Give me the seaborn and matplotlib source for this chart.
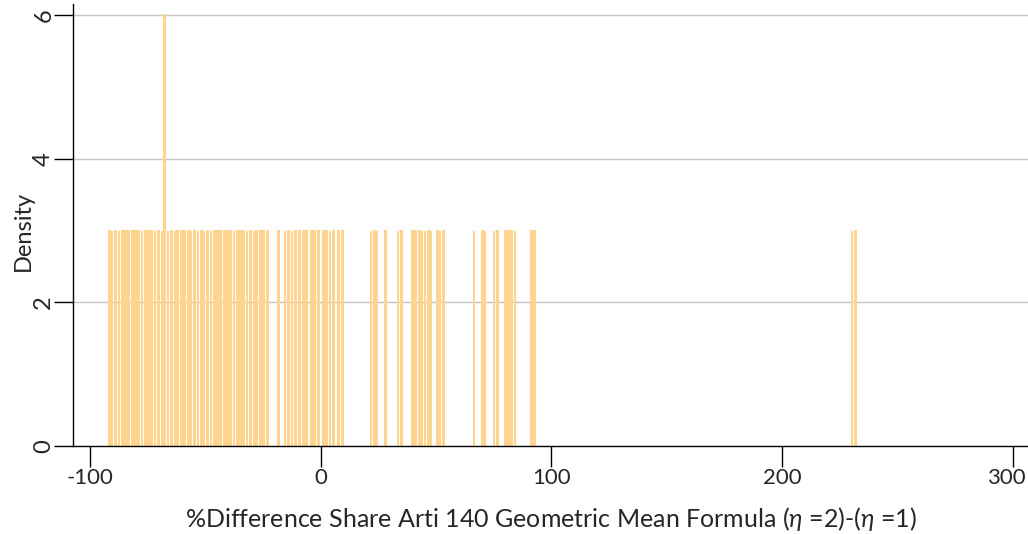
import numpy as np
import pandas as pd
import matplotlib
matplotlib.use("Agg")
import matplotlib.pyplot as plt
import matplotlib.transforms as mtransforms
import seaborn as sns

pct_diff = [
    -91.7, -90.3, -88.9, -87.4, -86.0, -84.6, -83.2, -81.7, -80.3, -78.9,
    -77.5, -76.0, -74.6, -73.2, -71.8, -70.3, -68.9, -67.5, -67.5, -66.1,
    -64.6, -63.2, -61.8, -60.4, -58.9, -57.5, -56.1, -54.7, -53.2, -51.8,
    -50.4, -49.0, -47.5, -46.1, -44.7, -43.3, -41.8, -40.4, -39.0, -37.6,
    -36.1, -34.7, -33.3, -31.9, -30.4, -29.0, -27.6, -26.2, -24.8,
    -22.8, -18.5,
    -15.5, -13.8, -12.4, -10.8, -9.0, -7.4, -6.1, -4.0, -2.7, -1.0,
    1.2, 2.6, 4.0, 5.7, 7.7, 9.5,
    21.9, 23.2, 24.5, 28.0, 33.6, 34.9, 39.7, 41.0, 42.7, 44.0,
    45.3, 46.6, 47.9, 50.5, 51.8, 53.2,
    66.5, 70.0, 71.4, 75.2, 76.6, 80.0, 81.4, 82.8, 84.1, 91.3, 92.7,
    230.2, 232.0,
]
density_per_obs = 3.0
y_ticks = [0, 2, 4, 6]
x_ticks = [-100, 0, 100, 200, 300]

df = pd.DataFrame({"pct_diff": pct_diff,
                   "w": [density_per_obs] * len(pct_diff)})

sns.set_theme(style="white")
plt.rcParams['font.family'] = ['Lato', 'DejaVu Sans']
plt.rcParams['axes.unicode_minus'] = False
plt.rcParams['mathtext.fontset'] = 'custom'
plt.rcParams['mathtext.it'] = 'Lato:italic'
plt.rcParams['mathtext.rm'] = 'Lato'

fig = plt.figure(figsize=(10.28, 5.34), dpi=100)
ax = fig.add_axes([73 / 1028, 88 / 534, 1 - 73 / 1028, (446 - 4) / 534])

# horizontal grid lines
for yv in y_ticks[1:]:
    ax.axhline(yv, color="#c4c4c4", lw=1.0, zorder=0)

# very narrow bins, widened by a thick outline (Stata-style look)
bar_col = "#FFD48F"
sns.histplot(data=df, x="pct_diff", weights="w", stat="count", binwidth=0.3,
             color=bar_col, edgecolor=bar_col, linewidth=1.5, alpha=1,
             ax=ax, zorder=2)
for p in list(ax.patches):
    if p.get_height() == 0:
        p.remove()
    else:
        p.set_joinstyle("miter")
        p.set_capstyle("butt")

ax.set_xlim(-107.3, 306.7)
ax.set_ylim(0, 6.157)
ax.set_xticks(x_ticks)
ax.set_yticks(y_ticks)
ax.set_yticklabels([str(v) for v in y_ticks], rotation=90, va="center")

for side in ["top", "right"]:
    ax.spines[side].set_visible(False)
for side in ["left", "bottom"]:
    ax.spines[side].set_color("black")
    ax.spines[side].set_linewidth(1.0)
    ax.spines[side].set_zorder(3)

ax.tick_params(axis="x", length=15, width=1, color="black", pad=1,
               labelsize=16, direction="out", bottom=True)
ax.tick_params(axis="y", length=13.5, width=1, color="black", pad=0,
               labelsize=17, direction="out", left=True)

# nudge the last x label so it stays inside the figure
last = ax.get_xticklabels()[-1]
last.set_transform(last.get_transform() +
                   mtransforms.ScaledTranslation(-6 / 100, 0, fig.dpi_scale_trans))

ax.set_xlabel(r"%Difference Share Arti 140 Geometric Mean Formula ($\eta$ =2)-($\eta$ =1)",
              fontsize=18, labelpad=12)
ax.set_ylabel("Density", fontsize=17)
ax.yaxis.set_label_coords((34 - 73) / 955, 0.486)

fig.savefig("out.png", dpi=100)
